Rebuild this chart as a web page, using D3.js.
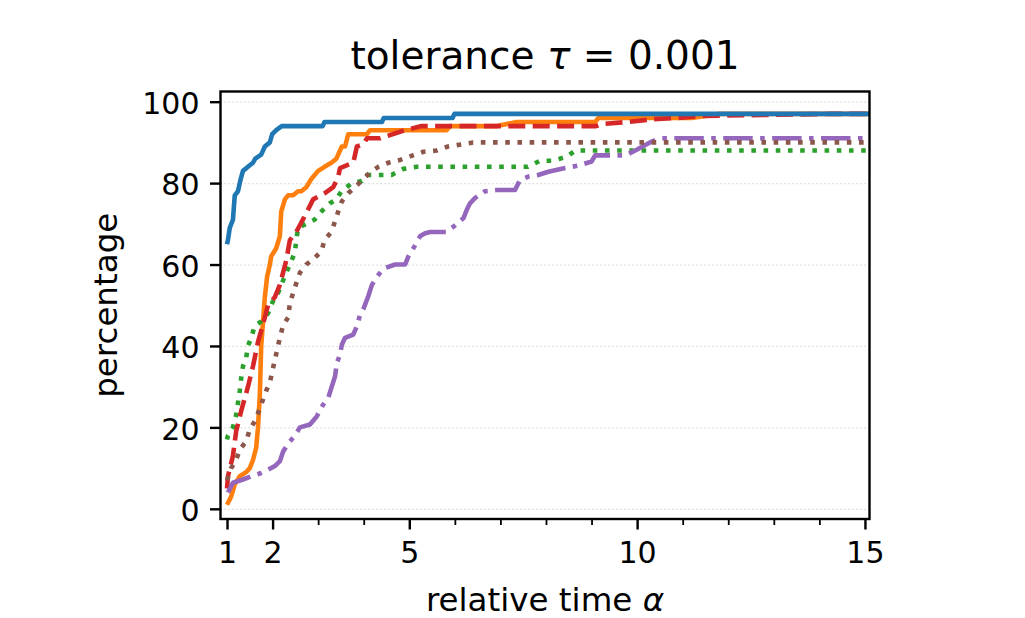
<!DOCTYPE html>
<html>
<head>
<meta charset="utf-8">
<script src="https://cdn.jsdelivr.net/npm/d3@7"></script>
<style>
  body { margin: 0; background: #fff; }
  text { font-family: "DejaVu Sans", sans-serif; fill: #000; }
</style>
</head>
<body>
<svg></svg>
<script>
// tick values
const xMajorTicks = [1, 2, 5, 10, 15];
const xMinorTicks = [3, 4, 6, 7, 8, 9, 11, 12, 13, 14];
const yTicks = [0, 20, 40, 60, 80, 100];

// performance profiles (relative time alpha, percentage)
const blueX = [1.0, 1.02, 1.06, 1.13, 1.17, 1.24, 1.30, 1.35, 1.46, 1.57, 1.62, 1.75, 1.83, 1.94, 1.99, 2.08, 2.2, 3.1, 3.14, 4.4, 4.44, 5.95, 5.99, 15.2];
const blueY = [65, 66, 69, 71, 77, 78, 81, 83, 84, 85, 86, 87, 89, 90, 92, 93, 94, 94, 95, 95, 96, 96, 97, 97];

const orangeX = [1.0, 1.09, 1.17, 1.28, 1.42, 1.50, 1.57, 1.64, 1.68, 1.72, 1.75, 1.83, 1.88, 1.94, 1.97, 2.08, 2.16, 2.19, 2.27, 2.34, 2.45, 2.56, 2.63, 2.74, 2.85, 3.0, 3.14, 3.29, 3.40, 3.52, 3.59, 3.66, 4.07, 4.14, 5.82, 5.89, 6.92, 7.36, 9.08, 9.15, 11.2, 11.8, 15.2];
const orangeY = [1, 3, 6, 8, 9, 10, 12, 15, 20, 28, 40, 52, 57, 60, 62, 64, 67, 73, 76, 77, 77, 78, 78, 79, 81, 83, 84, 85, 86, 89, 89, 92, 92, 93, 93, 94, 94, 95, 95, 96, 96, 97, 97];

const greenX = [1.0, 1.02, 1.13, 1.2, 1.24, 1.28, 1.31, 1.35, 1.42, 1.46, 1.53, 1.61, 1.75, 1.9, 1.97, 2.05, 2.12, 2.19, 2.3, 2.38, 2.49, 2.52, 2.56, 2.74, 2.92, 3.07, 3.25, 3.4, 3.51, 3.74, 3.96, 4.07, 4.61, 4.87, 5.16, 7.6, 7.87, 8.16, 8.46, 8.64, 15.2];
const greenY = [17, 18, 20, 23, 26, 29, 32, 35, 37, 40, 42, 45, 46, 48, 50, 52, 53, 55, 58, 60, 63, 66, 69, 70, 71, 73, 75, 76, 78, 80, 80.5, 82, 82, 83.5, 84, 84, 85.5, 85.5, 86.5, 88, 88];

const redX = [1.0, 1.02, 1.13, 1.2, 1.31, 1.46, 1.57, 1.68, 1.83, 1.9, 2.05, 2.16, 2.3, 2.38, 2.52, 2.71, 2.89, 3.14, 3.33, 3.44, 3.48, 3.77, 3.85, 3.99, 4.07, 4.36, 4.9, 5.27, 9.1, 9.23, 9.78, 10.35, 10.9, 11.45, 14.24, 15.2];
const redY = [5, 8, 13, 19, 24, 30, 35, 41, 47, 50, 52, 55, 61, 66, 68, 72, 76, 77.5, 79, 81.5, 83.7, 85, 89, 89.5, 91, 91, 93, 94, 94, 94.5, 95, 95.7, 96, 96.5, 97, 97];

const purpleX = [1.02, 1.13, 1.35, 1.53, 1.75, 1.9, 2.05, 2.16, 2.23, 2.34, 2.49, 2.6, 2.82, 2.97, 3.11, 3.22, 3.29, 3.37, 3.41, 3.48, 3.52, 3.59, 3.77, 3.85, 3.92, 3.99, 4.1, 4.18, 4.29, 4.43, 4.69, 4.91, 4.98, 5.09, 5.24, 5.35, 5.46, 5.82, 5.97, 6.19, 6.26, 6.33, 6.44, 6.66, 6.92, 7.32, 7.43, 7.61, 7.83, 8.05, 8.42, 8.71, 9.0, 9.08, 9.74, 9.96, 10.32, 10.5, 15.2];
const purpleY = [4, 6.4, 7.2, 8, 8.8, 9.6, 10.5, 11.7, 14, 16, 18, 20, 20.7, 22.7, 25.6, 27.2, 29.7, 32.5, 35.8, 37.9, 40.3, 42, 42.8, 44.8, 47.7, 49, 52.2, 55, 57, 59, 60, 60, 62, 64, 67, 67.7, 68, 68, 69.3, 71.4, 73.4, 75, 76.3, 78, 78.3, 78.3, 80.8, 81.6, 82, 82.8, 83.7, 84.3, 85.3, 86.8, 86.8, 88, 90.2, 91, 91];

const brownX = [1.0, 1.09, 1.2, 1.28, 1.42, 1.5, 1.61, 1.68, 1.86, 1.94, 2.05, 2.16, 2.23, 2.34, 2.38, 2.45, 2.52, 2.6, 2.74, 2.92, 3.07, 3.14, 3.29, 3.37, 3.44, 3.52, 3.66, 3.81, 3.99, 4.14, 4.32, 4.54, 4.8, 5.05, 5.31, 5.6, 5.85, 6.14, 6.4, 15.2];
const brownY = [7, 10, 12, 14.5, 16.6, 19.5, 21.5, 23.5, 29, 31, 36.6, 42, 45, 47, 50.5, 53, 55.4, 58, 60, 61.6, 63.2, 66, 68, 70.6, 73, 75.5, 77.5, 79, 81, 82.6, 84, 85, 85.7, 86.7, 87.7, 88, 89, 89.5, 90, 90];

// matplotlib style: lw 1.5pt at ~3px/pt, dash patterns scaled by lw
const series = [
    { xs: orangeX, ys: orangeY, color: '#ff7f0e', dash: null },
    { xs: greenX, ys: greenY, color: '#2ca02c', dash: '4.6,7.6' },
    { xs: redX, ys: redY, color: '#d62728', dash: '17,7.4' },
    { xs: purpleX, ys: purpleY, color: '#9467bd', dash: '29.5,7.4,4.6,7.4' },
    { xs: brownX, ys: brownY, color: '#8c564b', dash: '4.6,7.6' },
    { xs: blueX, ys: blueY, color: '#1f77b4', dash: null },
];

const W = 1025, H = 618;
const plotLeft = 220.5, plotRight = 869.5, plotTop = 91.5, plotBottom = 519;

const svg = d3.select('svg')
    .attr('width', W)
    .attr('height', H);

const xScale = d3.scaleLinear()
    .domain([0.857, 15.1])
    .range([plotLeft, plotRight]);

const yScale = d3.scaleLinear()
    .domain([-2.5, 102.5])
    .range([plotBottom, plotTop]);

svg.append('defs').append('clipPath')
    .attr('id', 'clip')
    .append('rect')
    .attr('x', plotLeft).attr('y', plotTop)
    .attr('width', plotRight - plotLeft).attr('height', plotBottom - plotTop);

// horizontal grid lines
svg.append('g')
    .attr('transform', `translate(${plotLeft}, 0)`)
    .call(d3.axisLeft(yScale)
        .tickValues(yTicks)
        .tickSize(-(plotRight - plotLeft))
        .tickFormat(''))
    .call(g => g.select('.domain').remove())
    .selectAll('line')
    .attr('stroke', '#d8d8d8')
    .attr('stroke-width', 1.2)
    .attr('stroke-dasharray', '1.5,2.5');

// the lines
const line = d3.line()
    .x(d => xScale(d[0]))
    .y(d => yScale(d[1]));

const plot = svg.append('g').attr('clip-path', 'url(#clip)');
series.forEach(s => {
    plot.append('path')
        .datum(s.xs.map((x, i) => [x, s.ys[i]]))
        .attr('fill', 'none')
        .attr('stroke', s.color)
        .attr('stroke-width', 4.6)
        .attr('stroke-linejoin', 'round')
        .attr('stroke-dasharray', s.dash)
        .attr('d', line);
});

// axes
const xAxis = svg.append('g')
    .attr('transform', `translate(0, ${plotBottom})`)
    .call(d3.axisBottom(xScale)
        .tickValues(xMajorTicks)
        .tickSize(10.5)
        .tickFormat(d3.format('d')));
xAxis.select('.domain').remove();
xAxis.selectAll('line').attr('stroke', '#000').attr('stroke-width', 2.4);
xAxis.selectAll('text')
    .attr('font-size', 30)
    .attr('dy', null)
    .attr('y', 44);

const xMinor = svg.append('g')
    .attr('transform', `translate(0, ${plotBottom})`)
    .call(d3.axisBottom(xScale)
        .tickValues(xMinorTicks)
        .tickSize(6)
        .tickFormat(''));
xMinor.select('.domain').remove();
xMinor.selectAll('line').attr('stroke', '#000').attr('stroke-width', 1.8);

const yAxis = svg.append('g')
    .attr('transform', `translate(${plotLeft}, 0)`)
    .call(d3.axisLeft(yScale)
        .tickValues(yTicks)
        .tickSize(10.5)
        .tickPadding(10.5));
yAxis.select('.domain').remove();
yAxis.selectAll('line').attr('stroke', '#000').attr('stroke-width', 2.4);
yAxis.selectAll('text')
    .attr('font-size', 30)
    .attr('dy', '0.39em');

// frame
svg.append('rect')
    .attr('x', plotLeft).attr('y', plotTop)
    .attr('width', plotRight - plotLeft).attr('height', plotBottom - plotTop)
    .attr('fill', 'none')
    .attr('stroke', '#000')
    .attr('stroke-width', 2.4);

// labels
const title = svg.append('text')
    .attr('x', (plotLeft + plotRight) / 2)
    .attr('y', 69)
    .attr('text-anchor', 'middle')
    .attr('font-size', 39);
title.append('tspan').text('tolerance ');
title.append('tspan').attr('font-style', 'italic').text('τ');
title.append('tspan').text(' = 0.001');

const xLabel = svg.append('text')
    .attr('x', (plotLeft + plotRight) / 2)
    .attr('y', 611)
    .attr('text-anchor', 'middle')
    .attr('font-size', 32.5);
xLabel.append('tspan').text('relative time ');
xLabel.append('tspan').attr('font-style', 'italic').text('α');

svg.append('text')
    .attr('transform', `translate(117, ${(plotTop + plotBottom) / 2}) rotate(-90)`)
    .attr('text-anchor', 'middle')
    .attr('font-size', 32.5)
    .text('percentage');
</script>
</body>
</html>
